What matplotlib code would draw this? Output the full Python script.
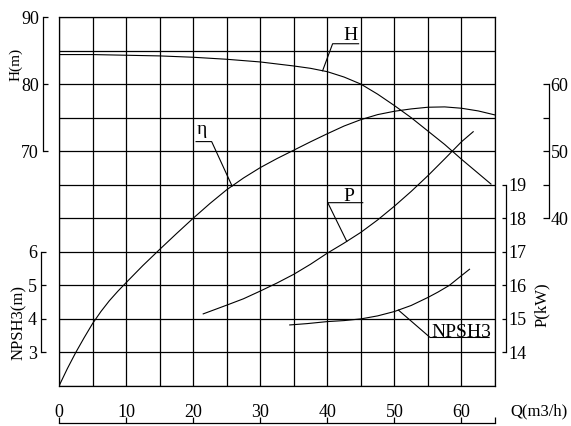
import matplotlib
matplotlib.use('Agg')
import matplotlib.pyplot as plt
from matplotlib.lines import Line2D
import numpy as np

plt.rcParams['font.family'] = ['Liberation Serif', 'DejaVu Serif']

# pump curves, Q in m3/h
q_head = [0, 5, 10, 15, 20, 25, 30, 35, 37.5, 40, 42.5, 45, 47.5, 50, 52.5,
          55, 57.5, 60, 62.5, 64.4]
head = [84.4, 84.4, 84.3, 84.2, 84.0, 83.7, 83.3, 82.7, 82.35, 81.85, 81.05,
        80.0, 78.5, 76.8, 75.0, 73.0, 71.0, 68.8, 66.7, 65.1]

q_eff = [0, 1.25, 2.5, 3.75, 5, 6.25, 7.5, 8.75, 10, 12.5, 15, 17.5, 20, 22.5,
         25, 27.5, 30, 32.5, 35, 37.5, 40, 42.5, 45, 47.5, 50, 52.5, 55, 57.5,
         60, 62.5, 65]
eff = [15, 17.6, 20, 22.2, 24.3, 26.1, 27.7, 29.1, 30.4, 32.95, 35.35, 37.7,
       40.0, 42.2, 44.25, 46.0, 47.55, 48.9, 50.15, 51.4, 52.6, 53.75, 54.7,
       55.45, 55.95, 56.3, 56.55, 56.6, 56.4, 56.0, 55.4]

q_pow = [21.5, 25, 27.5, 30, 32.5, 35, 37.5, 40, 42.5, 45, 47.5, 50, 52.5,
         55, 57.5, 60, 61.75]
power = [15.15, 15.41, 15.6, 15.83, 16.07, 16.33, 16.63, 16.96, 17.26, 17.58,
         17.95, 18.36, 18.8, 19.27, 19.77, 20.28, 20.58]

q_npsh = [34.4, 37, 40, 42.5, 45, 47.5, 50, 52.5, 55, 56.5, 58.2, 60, 61.2]
npsh = [3.82, 3.86, 3.92, 3.95, 4.0, 4.09, 4.22, 4.4, 4.64, 4.8, 5.0, 5.29, 5.48]

head_ticks = [70, 80, 90]
npsh_ticks = [3, 4, 5, 6]
pow_ticks = [14, 15, 16, 17, 18, 19]
eff_ticks = [40, 45, 50, 55, 60]
eff_labels = ['40', '', '50', '', '60']
q_ticks = [0, 10, 20, 30, 40, 50, 60, 65]
q_labels = ['0', '10', '20', '30', '40', '50', '60', '']

FIG_W, FIG_H, DPI = 571, 426, 100
PT = 72 / DPI  # points per pixel
LW = 0.9

fig = plt.figure(figsize=(FIG_W / DPI, FIG_H / DPI), dpi=DPI)
box = [59 / FIG_W, 1 - 386 / FIG_H, 436 / FIG_W, 369 / FIG_H]

# the grid box
ax_grid = fig.add_axes(box)
ax_grid.set_xlim(0, 65)
ax_grid.set_ylim(0, 11)
ax_grid.set_xticks(np.arange(0, 66, 5))
ax_grid.set_yticks(np.arange(0, 12, 1))
ax_grid.grid(True, color='black', lw=LW)
ax_grid.tick_params(length=0, labelbottom=False, labelleft=False)
for s in ax_grid.spines.values():
    s.set_linewidth(LW)


def scale_axes(ylim):
    a = fig.add_axes(box)
    a.patch.set_visible(False)
    a.set_xlim(0, 65)
    a.set_ylim(*ylim)
    for s in a.spines.values():
        s.set_visible(False)
    a.tick_params(bottom=False, labelbottom=False, left=False, labelleft=False)
    return a


def y_scale(a, side, offset_px, ticks, labels=None, tick_px=5, pad=2):
    sp = a.spines[side]
    sp.set_visible(True)
    sp.set_position(('outward', offset_px * PT))
    sp.set_bounds(ticks[0], ticks[-1])
    sp.set_linewidth(LW)
    a.set_yticks(ticks)
    if labels is not None:
        a.set_yticklabels(labels)
    if side == 'left':
        a.tick_params(axis='y', left=True, labelleft=True)
    else:
        a.yaxis.set_ticks_position('right')
        a.tick_params(axis='y', right=True, labelright=True, left=False, labelleft=False)
    a.tick_params(axis='y', direction='in', length=tick_px * PT, width=LW,
                  pad=pad, labelsize=13)


ax_h = scale_axes((35, 90))
ax_n = scale_axes((2, 13))
ax_p = scale_axes((13, 24))
ax_e = scale_axes((15, 70))
ax_q = scale_axes((0, 1))

y_scale(ax_h, 'left', 16, head_ticks, pad=3)
y_scale(ax_n, 'left', 18, npsh_ticks, pad=3)
y_scale(ax_p, 'right', 11, pow_ticks, tick_px=4, pad=2)
y_scale(ax_e, 'right', 54, eff_ticks, eff_labels, tick_px=6, pad=1)

# Q axis below the grid, labels sit above its line
sq = ax_q.spines['bottom']
sq.set_visible(True)
sq.set_position(('outward', 37 * PT))
sq.set_bounds(0, 65)
sq.set_linewidth(LW)
ax_q.set_xticks(q_ticks)
ax_q.set_xticklabels(q_labels)
ax_q.tick_params(axis='x', bottom=True, labelbottom=True, direction='in',
                 length=6 * PT, width=LW, pad=-14, labelsize=13)

# curves
ax_h.plot(q_head, head, color='black', lw=0.8)
ax_e.plot(q_eff, eff, color='black', lw=0.8)
ax_p.plot(q_pow, power, color='black', lw=0.8)
ax_n.plot(q_npsh, npsh, color='black', lw=0.8)


def leader(a, qs, ys, q_at, elbow, end_dx, text, text_at, size=14):
    # offsets in image pixels (y down) from the point on the curve
    x0, y0 = a.transData.transform((q_at, np.interp(q_at, qs, ys)))
    y0 = FIG_H - y0
    xs = [x0, x0 + elbow[0], x0 + end_dx]
    yy = [y0, y0 + elbow[1], y0 + elbow[1]]
    fig.add_artist(Line2D([x / FIG_W for x in xs], [1 - y / FIG_H for y in yy],
                          transform=fig.transFigure, color='black', lw=0.8))
    fig.text((x0 + text_at[0]) / FIG_W, 1 - (y0 + text_at[1]) / FIG_H, text,
             ha='center', va='baseline', fontsize=size)


leader(ax_h, q_head, head, 39.3, (10, -27), 36, 'H', (28, -31))
leader(ax_e, q_eff, eff, 25.8, (-20.4, -44.4), -36, 'η', (-30.2, -51.7))
leader(ax_p, q_pow, power, 42.9, (-19, -38.7), 16, 'P', (2.3, -40.7))
leader(ax_n, q_npsh, npsh, 50.6, (31.7, 27.4), 90.7, 'NPSH3', (62.5, 26.7))

# axis titles
fig.text(16 / FIG_W, 1 - 64 / FIG_H, 'H(m)', rotation=90, ha='center', va='center', fontsize=11)
fig.text(19 / FIG_W, 1 - 323 / FIG_H, 'NPSH3(m)', rotation=90, ha='center', va='center', fontsize=12)
fig.text(541.5 / FIG_W, 1 - 304.5 / FIG_H, 'P(kW)', rotation=90, ha='center', va='center', fontsize=12)
fig.text(539 / FIG_W, 1 - 411.5 / FIG_H, 'Q(m3/h)', ha='center', va='center', fontsize=12)

fig.savefig('out.png', dpi=DPI)
